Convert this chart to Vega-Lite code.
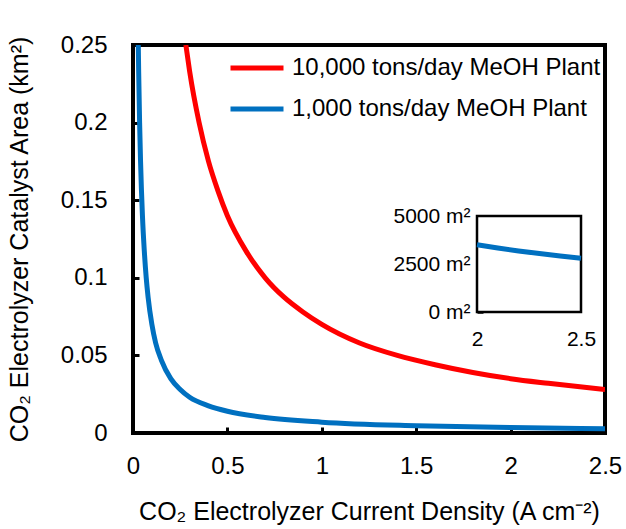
{
  "$schema": "https://vega.github.io/schema/vega-lite/v6.json",
  "width": 472,
  "height": 388,
  "autosize": {"type": "none"},
  "padding": {"left": 133, "top": 45, "right": 21, "bottom": 96},
  "config": {
    "view": {"stroke": "black", "strokeWidth": 4},
    "font": "Liberation Sans",
    "axis": {"grid": false, "domain": false, "labelColor": "black", "titleColor": "black", "tickColor": "black"}
  },
  "layer": [
    {
      "data": {"values": [
        {"j": 0.28, "area": 0.25, "plant": "10,000 tons/day MeOH Plant"},
        {"j": 0.3, "area": 0.233, "plant": "10,000 tons/day MeOH Plant"},
        {"j": 0.35, "area": 0.2, "plant": "10,000 tons/day MeOH Plant"},
        {"j": 0.4, "area": 0.175, "plant": "10,000 tons/day MeOH Plant"},
        {"j": 0.45, "area": 0.156, "plant": "10,000 tons/day MeOH Plant"},
        {"j": 0.5, "area": 0.14, "plant": "10,000 tons/day MeOH Plant"},
        {"j": 0.6, "area": 0.117, "plant": "10,000 tons/day MeOH Plant"},
        {"j": 0.7, "area": 0.1, "plant": "10,000 tons/day MeOH Plant"},
        {"j": 0.8, "area": 0.0875, "plant": "10,000 tons/day MeOH Plant"},
        {"j": 0.9, "area": 0.078, "plant": "10,000 tons/day MeOH Plant"},
        {"j": 1.0, "area": 0.07, "plant": "10,000 tons/day MeOH Plant"},
        {"j": 1.2, "area": 0.058, "plant": "10,000 tons/day MeOH Plant"},
        {"j": 1.4, "area": 0.05, "plant": "10,000 tons/day MeOH Plant"},
        {"j": 1.6, "area": 0.044, "plant": "10,000 tons/day MeOH Plant"},
        {"j": 1.8, "area": 0.039, "plant": "10,000 tons/day MeOH Plant"},
        {"j": 2.0, "area": 0.035, "plant": "10,000 tons/day MeOH Plant"},
        {"j": 2.2, "area": 0.032, "plant": "10,000 tons/day MeOH Plant"},
        {"j": 2.5, "area": 0.028, "plant": "10,000 tons/day MeOH Plant"},
        {"j": 0.028, "area": 0.25, "plant": "1,000 tons/day MeOH Plant"},
        {"j": 0.03, "area": 0.233, "plant": "1,000 tons/day MeOH Plant"},
        {"j": 0.035, "area": 0.2, "plant": "1,000 tons/day MeOH Plant"},
        {"j": 0.04, "area": 0.175, "plant": "1,000 tons/day MeOH Plant"},
        {"j": 0.05, "area": 0.14, "plant": "1,000 tons/day MeOH Plant"},
        {"j": 0.06, "area": 0.117, "plant": "1,000 tons/day MeOH Plant"},
        {"j": 0.07, "area": 0.1, "plant": "1,000 tons/day MeOH Plant"},
        {"j": 0.08, "area": 0.0875, "plant": "1,000 tons/day MeOH Plant"},
        {"j": 0.1, "area": 0.07, "plant": "1,000 tons/day MeOH Plant"},
        {"j": 0.12, "area": 0.058, "plant": "1,000 tons/day MeOH Plant"},
        {"j": 0.15, "area": 0.047, "plant": "1,000 tons/day MeOH Plant"},
        {"j": 0.2, "area": 0.035, "plant": "1,000 tons/day MeOH Plant"},
        {"j": 0.25, "area": 0.028, "plant": "1,000 tons/day MeOH Plant"},
        {"j": 0.3, "area": 0.023, "plant": "1,000 tons/day MeOH Plant"},
        {"j": 0.4, "area": 0.0175, "plant": "1,000 tons/day MeOH Plant"},
        {"j": 0.5, "area": 0.014, "plant": "1,000 tons/day MeOH Plant"},
        {"j": 0.7, "area": 0.01, "plant": "1,000 tons/day MeOH Plant"},
        {"j": 1.0, "area": 0.007, "plant": "1,000 tons/day MeOH Plant"},
        {"j": 1.5, "area": 0.0047, "plant": "1,000 tons/day MeOH Plant"},
        {"j": 2.0, "area": 0.0035, "plant": "1,000 tons/day MeOH Plant"},
        {"j": 2.5, "area": 0.0028, "plant": "1,000 tons/day MeOH Plant"}
      ]},
      "mark": {"type": "line", "strokeWidth": 5, "interpolate": "monotone", "clip": true},
      "encoding": {
        "x": {
          "field": "j", "type": "quantitative",
          "scale": {"domain": [0, 2.5], "nice": false},
          "axis": {"orient": "bottom", "values": [0, 0.5, 1, 1.5, 2, 2.5], "format": "~g", "labelFontSize": 24, "labelPadding": 27, "tickSize": -6, "tickWidth": 3, "labelFlush": false,
            "title": "CO₂ Electrolyzer Current Density (A cm⁻²)", "titleFontSize": 25, "titleFontWeight": "normal", "titlePadding": 21}
        },
        "y": {
          "field": "area", "type": "quantitative",
          "scale": {"domain": [0, 0.25], "nice": false},
          "axis": {"orient": "left", "values": [0, 0.05, 0.1, 0.15, 0.2, 0.25], "format": "~g", "labelFontSize": 24, "labelPadding": 32, "tickSize": -6, "tickWidth": 3, "labelFlush": false,
            "title": "CO₂ Electrolyzer Catalyst Area  (km²)", "titleFontSize": 25, "titleFontWeight": "normal", "titlePadding": 28}
        },
        "color": {
          "field": "plant", "type": "nominal",
          "scale": {"domain": ["10,000 tons/day MeOH Plant", "1,000 tons/day MeOH Plant"], "range": ["#FF0000", "#0070C0"]},
          "legend": {"orient": "none", "legendX": 95, "legendY": -6, "title": null, "symbolType": "stroke", "symbolSize": 2809, "symbolStrokeWidth": 5, "labelFontSize": 24, "labelColor": "black", "rowPadding": -1, "labelOffset": 6, "labelLimit": 400}
        }
      }
    },
    {
      "layer": [
        {
          "data": {"values": [{}]},
          "mark": {"type": "rect", "fill": "white", "stroke": "black", "strokeWidth": 2.5},
          "encoding": {
            "x": {"datum": 2, "type": "quantitative", "scale": {"domain": [2, 2.5], "range": [344, 448], "nice": false, "zero": false},
              "axis": {"orient": "bottom", "offset": -121, "values": [2, 2.5], "format": "~g", "labelFontSize": 21, "labelPadding": 16, "tickSize": 0, "labelFlush": false, "title": null}},
            "x2": {"datum": 2.5},
            "y": {"datum": 0, "type": "quantitative", "scale": {"domain": [0, 5000], "range": [267, 171], "nice": false},
              "axis": {"orient": "left", "offset": -344, "values": [0, 2500, 5000], "labelExpr": "datum.value + ' m²'", "labelFontSize": 21, "labelPadding": 13, "tickSize": -6, "tickWidth": 2.5, "labelFlush": false, "title": null}},
            "y2": {"datum": 5000}
          }
        },
        {
          "data": {"values": [
            {"j": 2.0, "area_m2": 3500},
            {"j": 2.1, "area_m2": 3333},
            {"j": 2.2, "area_m2": 3182},
            {"j": 2.3, "area_m2": 3043},
            {"j": 2.4, "area_m2": 2917},
            {"j": 2.5, "area_m2": 2800}
          ]},
          "mark": {"type": "line", "strokeWidth": 5, "color": "#0070C0", "interpolate": "monotone"},
          "encoding": {
            "x": {"field": "j", "type": "quantitative"},
            "y": {"field": "area_m2", "type": "quantitative"}
          }
        }
      ]
    }
  ],
  "resolve": {"scale": {"x": "independent", "y": "independent"}, "axis": {"x": "independent", "y": "independent"}}
}
